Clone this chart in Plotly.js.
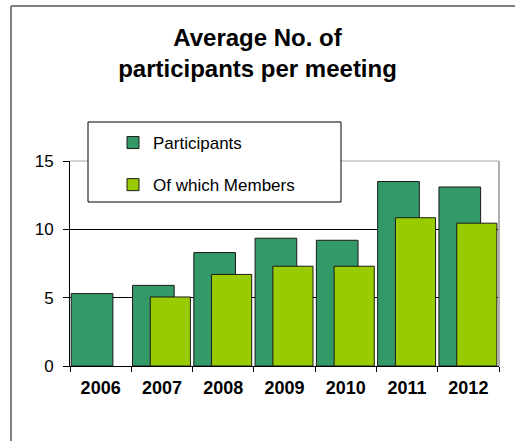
<!DOCTYPE html>
<html>
<head>
<meta charset="utf-8">
<script src="https://cdn.plot.ly/plotly-3.0.1.min.js"></script>
<style>
html,body{margin:0;padding:0;background:#fff;}
#chart{width:515px;height:441px;}
</style>
</head>
<body>
<div id="chart"></div>
<script>
var years = ['2006','2007','2008','2009','2010','2011','2012'];
var participants = [5.3, 5.9, 8.3, 9.35, 9.2, 13.5, 13.1];
var members = [null, 5.05, 6.7, 7.3, 7.3, 10.85, 10.45];
var seriesNames = ['Participants', 'Of which Members'];
var yTicks = [0, 5, 10, 15];

var W = 515, H = 441;
var L = 70, R = 16, T = 161, B = 75;
var pw = W - L - R, ph = H - T - B;
function px(x){ return (x - L) / pw; }
function py(y){ return (H - B - y) / ph; }

var traces = [
  {
    type: 'bar', name: seriesNames[0], x: years, y: participants,
    offset: -0.48, width: 0.68,
    marker: {color: '#339966', line: {color: '#1a1a1a', width: 1}},
    legendgroup: 'a', hoverinfo: 'x+y'
  },
  {
    type: 'bar', name: seriesNames[1], x: years, y: members,
    offset: -0.19, width: 0.655,
    marker: {color: '#99CC00', line: {color: '#1a1a1a', width: 1}},
    legendgroup: 'b', hoverinfo: 'x+y'
  }
];

var layout = {
  width: W, height: H,
  margin: {l: L, r: R, t: T, b: B, pad: 0},
  paper_bgcolor: '#ffffff', plot_bgcolor: '#ffffff',
  font: {family: 'Liberation Sans, Arial, sans-serif', color: '#000'},
  barmode: 'overlay',
  title: {
    text: '<b>Average No. of<br>participants per meeting</b>',
    font: {size: 24, family: 'Liberation Sans, Arial, sans-serif', color: '#000'},
    x: 0.5, xanchor: 'center', xref: 'container',
    y: 1 - 46/H, yanchor: 'top', yref: 'container'
  },
  xaxis: {
    type: 'category', range: [-0.5, 6.5],
    tickson: 'boundaries', ticks: 'outside', ticklen: 5, tickcolor: '#000', tickwidth: 1,
    showline: true, linecolor: '#000', linewidth: 1,
    showgrid: false, zeroline: false,
    tickfont: {size: 18, family: 'Liberation Sans, Arial, sans-serif', color: '#000', weight: 'bold'},
    ticklabelstandoff: 5,
    fixedrange: true
  },
  yaxis: {
    range: [0, 15], tickvals: yTicks, ticktext: yTicks.map(String),
    ticks: 'outside', ticklen: 6, tickcolor: '#000', tickwidth: 1,
    showline: true, linecolor: '#000', linewidth: 1,
    showgrid: true, gridcolor: '#000', gridwidth: 1, zeroline: false,
    tickfont: {size: 17, family: 'Liberation Sans, Arial, sans-serif', color: '#000'},
    ticklabelstandoff: 6,
    fixedrange: true
  },
  showlegend: true,
  legend: {
    x: px(113), y: py(125), xanchor: 'left', yanchor: 'top',
    bgcolor: 'rgba(0,0,0,0)', borderwidth: 0,
    font: {size: 17, family: 'Liberation Sans, Arial, sans-serif', color: '#000'},
    traceorder: 'grouped', tracegroupgap: 17
  },
  shapes: [
    {type: 'line', xref: 'paper', yref: 'paper', x0: 0, x1: 1, y0: 1, y1: 1,
     line: {color: '#a6a6a6', width: 1}, layer: 'above'},
    {type: 'line', xref: 'paper', yref: 'paper', x0: 1, x1: 1, y0: 0, y1: 1,
     line: {color: '#b0b0b0', width: 2}, layer: 'above'},
    {type: 'rect', xref: 'paper', yref: 'paper',
     x0: px(88), x1: px(341), y0: py(202), y1: py(122),
     fillcolor: '#ffffff', line: {color: '#000', width: 1}, layer: 'above'},
    {type: 'line', xref: 'paper', yref: 'paper', x0: px(11), x1: px(520), y0: py(6), y1: py(6),
     line: {color: '#7f7f7f', width: 2}, layer: 'above'},
    {type: 'line', xref: 'paper', yref: 'paper', x0: px(11), x1: px(11), y0: py(6), y1: py(450),
     line: {color: '#7f7f7f', width: 2}, layer: 'above'}
  ]
};

Plotly.newPlot('chart', traces, layout, {displayModeBar: false, staticPlot: true});
</script>
</body>
</html>
